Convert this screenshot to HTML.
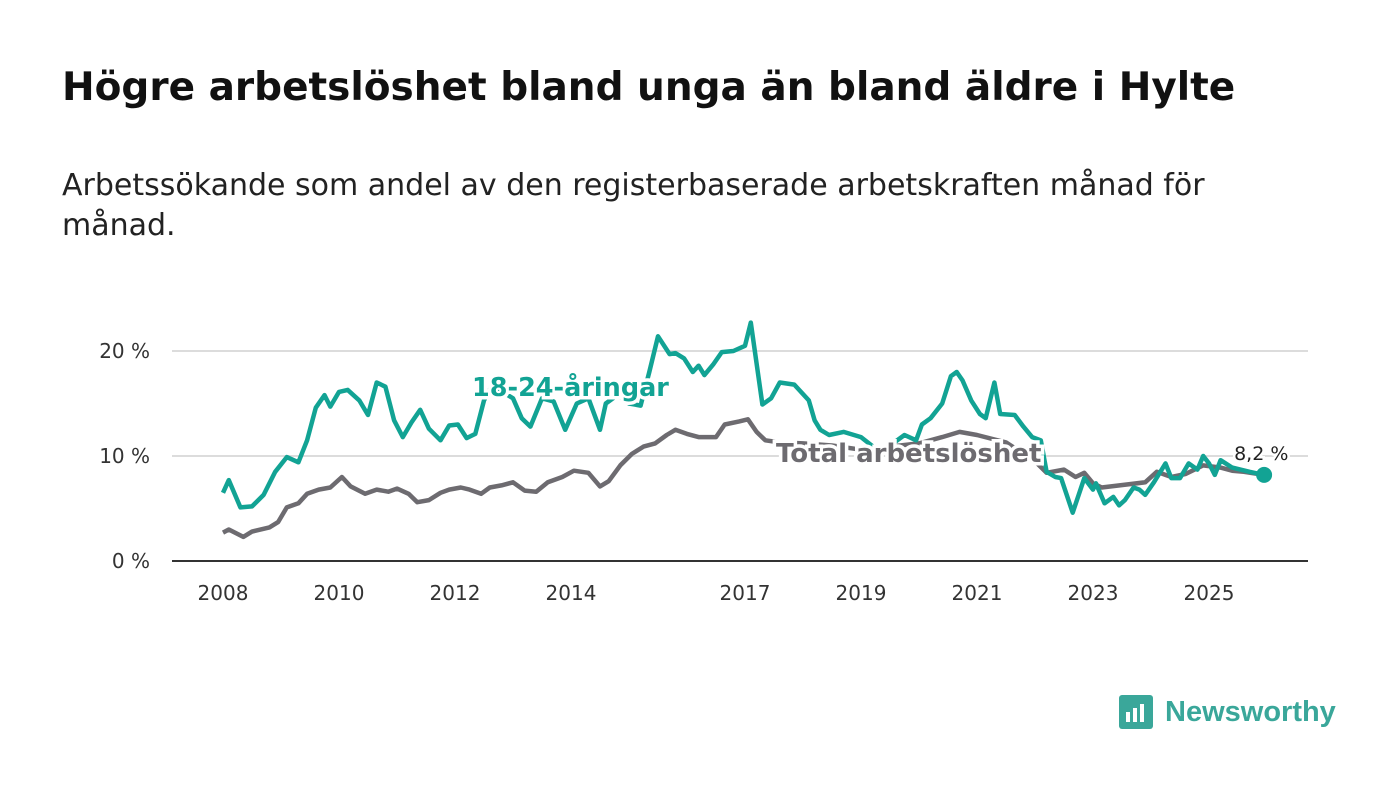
<!DOCTYPE html>
<html><head><meta charset="utf-8"><style>
body{margin:0;background:#fff;width:1400px;height:794px;overflow:hidden;font-family:"DejaVu Sans","Liberation Sans",sans-serif;}
h1{position:absolute;left:62px;top:65px;margin:0;font-size:39px;font-weight:bold;color:#111;white-space:nowrap;}
p{position:absolute;left:62px;top:166px;margin:0;font-size:30px;line-height:40px;color:#222;white-space:nowrap;}
svg{position:absolute;left:0;top:0;font-family:"DejaVu Sans","Liberation Sans",sans-serif;}
</style></head><body>
<h1>Högre arbetslöshet bland unga än bland äldre i Hylte</h1>
<p>Arbetssökande som andel av den registerbaserade arbetskraften månad för<br>månad.</p>
<svg id="chart" width="1400" height="794"></svg>
<script>
const youthYears=[2008.0,2008.1,2008.3,2008.5,2008.7,2008.9,2009.1,2009.3,2009.45,2009.6,2009.75,2009.85,2010.0,2010.15,2010.35,2010.5,2010.65,2010.8,2010.95,2011.1,2011.25,2011.4,2011.55,2011.75,2011.9,2012.05,2012.2,2012.35,2012.5,2012.65,2012.85,2013.0,2013.15,2013.3,2013.5,2013.7,2013.9,2014.1,2014.3,2014.5,2014.6,2014.8,2015.0,2015.2,2015.35,2015.5,2015.7,2015.8,2015.95,2016.1,2016.2,2016.3,2016.45,2016.6,2016.8,2017.0,2017.1,2017.3,2017.45,2017.6,2017.85,2018.1,2018.2,2018.3,2018.45,2018.7,2019.0,2019.3,2019.5,2019.75,2019.95,2020.05,2020.2,2020.4,2020.55,2020.65,2020.75,2020.9,2021.05,2021.15,2021.3,2021.4,2021.65,2021.8,2021.95,2022.1,2022.2,2022.35,2022.45,2022.65,2022.85,2023.0,2023.05,2023.2,2023.35,2023.45,2023.55,2023.7,2023.8,2023.9,2024.05,2024.25,2024.35,2024.5,2024.65,2024.8,2024.9,2025.0,2025.1,2025.2,2025.4,2025.7,2025.95];
const youthValues=[6.5,7.7,5.1,5.2,6.3,8.5,9.9,9.4,11.5,14.6,15.8,14.7,16.1,16.3,15.3,13.9,17.0,16.6,13.4,11.8,13.2,14.4,12.6,11.5,12.9,13.0,11.7,12.1,15.3,16.8,16.0,15.5,13.6,12.8,15.5,15.2,12.5,15.0,15.5,12.5,15.0,15.8,15.0,14.8,18.0,21.4,19.7,19.8,19.3,18.0,18.6,17.7,18.7,19.9,20.0,20.5,22.7,14.9,15.5,17.0,16.8,15.3,13.4,12.5,12.0,12.3,11.8,10.5,11.0,12.0,11.5,13.0,13.6,15.0,17.6,18.0,17.2,15.3,14.0,13.6,17.0,14.0,13.9,12.8,11.8,11.5,8.5,8.0,7.9,4.6,7.9,6.8,7.4,5.5,6.1,5.3,5.8,7.0,6.8,6.3,7.5,9.3,7.9,7.9,9.3,8.7,10.0,9.3,8.2,9.6,8.9,8.5,8.2];
const totalYears=[2008.0,2008.1,2008.35,2008.5,2008.8,2008.95,2009.1,2009.3,2009.45,2009.65,2009.85,2010.05,2010.2,2010.45,2010.65,2010.85,2011.0,2011.2,2011.35,2011.55,2011.75,2011.9,2012.1,2012.25,2012.45,2012.6,2012.8,2013.0,2013.2,2013.4,2013.6,2013.85,2014.05,2014.3,2014.5,2014.65,2014.85,2015.05,2015.25,2015.45,2015.65,2015.8,2016.0,2016.2,2016.5,2016.65,2016.9,2017.05,2017.2,2017.35,2017.6,2018.0,2018.5,2019.0,2019.5,2020.0,2020.4,2020.7,2021.0,2021.5,2022.0,2022.2,2022.5,2022.7,2022.85,2023.0,2023.15,2023.6,2023.9,2024.1,2024.35,2024.6,2024.9,2025.2,2025.4,2025.6,2025.95];
const totalValues=[2.7,3.0,2.3,2.8,3.2,3.7,5.1,5.5,6.4,6.8,7.0,8.0,7.1,6.4,6.8,6.6,6.9,6.4,5.6,5.8,6.5,6.8,7.0,6.8,6.4,7.0,7.2,7.5,6.7,6.6,7.5,8.0,8.6,8.4,7.1,7.6,9.1,10.2,10.9,11.2,12.0,12.5,12.1,11.8,11.8,13.0,13.3,13.5,12.3,11.5,11.3,11.2,11.0,10.6,10.9,11.2,11.8,12.3,12.0,11.3,9.5,8.4,8.7,8.0,8.4,7.4,7.0,7.3,7.5,8.5,8.0,8.3,9.1,8.9,8.6,8.5,8.2];
const yTicks=[0,10,20];
const yTickLabels=["0 %","10 %","20 %"];
const xTicks=[2008,2010,2012,2014,2017,2019,2021,2023,2025];
const lastLabel="8,2 %";

const NS="http://www.w3.org/2000/svg";
const svg=document.getElementById('chart');
const X=v=>223+(v-2008)*58;
const Y=v=>561-v*10.5;
function mk(t,a,p){const e=document.createElementNS(NS,t);for(const k in a)e.setAttribute(k,a[k]);(p||svg).appendChild(e);return e;}
yTicks.forEach((t,i)=>{
  if(t>0){const g=mk('line',{x1:172,x2:1308,y1:Y(t),y2:Y(t),stroke:'#dcdcdc','stroke-width':2});
  
  }
  const l=mk('text',{x:150,y:Y(t)+7,'text-anchor':'end','font-size':20,fill:'#333'});
  l.textContent=yTickLabels[i];
  
  
});
const ax=mk('line',{x1:172,x2:1308,y1:561,y2:561,stroke:'#333','stroke-width':2});


xTicks.forEach(t=>{
  const l=mk('text',{x:X(t),y:600,'text-anchor':'middle','font-size':20,fill:'#333'});
  l.textContent=t;
  
  
});
function line(xs,vs,c,name){
  const d=xs.map((x,i)=>(i?'L':'M')+X(x).toFixed(1)+','+Y(vs[i]).toFixed(1)).join('');
  const p=mk('path',{d:d,fill:'none',stroke:c,'stroke-width':4.5,'stroke-linejoin':'round'});
  
  
}
line(totalYears,totalValues,'#6d6b70','total-line');
line(youthYears,youthValues,'#12a394','youth-line');
const lx=youthYears[youthYears.length-1],lv=youthValues[youthValues.length-1];
const dot=mk('circle',{cx:X(lx),cy:Y(lv),r:8,fill:'#12a394'});


const vl=mk('text',{x:X(lx)-30,y:Y(lv)-15,'font-size':19,fill:'#222',stroke:'#fff','stroke-width':5,'paint-order':'stroke'});
vl.textContent=lastLabel;


const s1=mk('text',{x:472,y:396,'font-size':25.5,'font-weight':'bold',fill:'#12a394',stroke:'#fff','stroke-width':7,'paint-order':'stroke'});
s1.textContent='18-24-åringar';


const s2=mk('text',{x:776,y:462,'font-size':26,'font-weight':'bold',fill:'#6d6b70',stroke:'#fff','stroke-width':7,'paint-order':'stroke'});
s2.textContent='Total arbetslöshet';


</script>
<div style="position:absolute;left:1119px;top:690px;height:44px;display:flex;align-items:center;font-family:'Liberation Sans',sans-serif;">
<div style="width:34px;height:34px;background:#3aa79a;border-radius:3px;position:relative;margin-right:12px;">
<div style="position:absolute;left:7px;bottom:7px;width:4px;height:10px;background:#fff"></div>
<div style="position:absolute;left:14px;bottom:7px;width:4px;height:14px;background:#fff"></div>
<div style="position:absolute;left:21px;bottom:7px;width:4px;height:18px;background:#fff"></div>
</div>
<span style="font-size:29px;font-weight:bold;color:#3aa79a;">Newsworthy</span></div>
</body></html>
